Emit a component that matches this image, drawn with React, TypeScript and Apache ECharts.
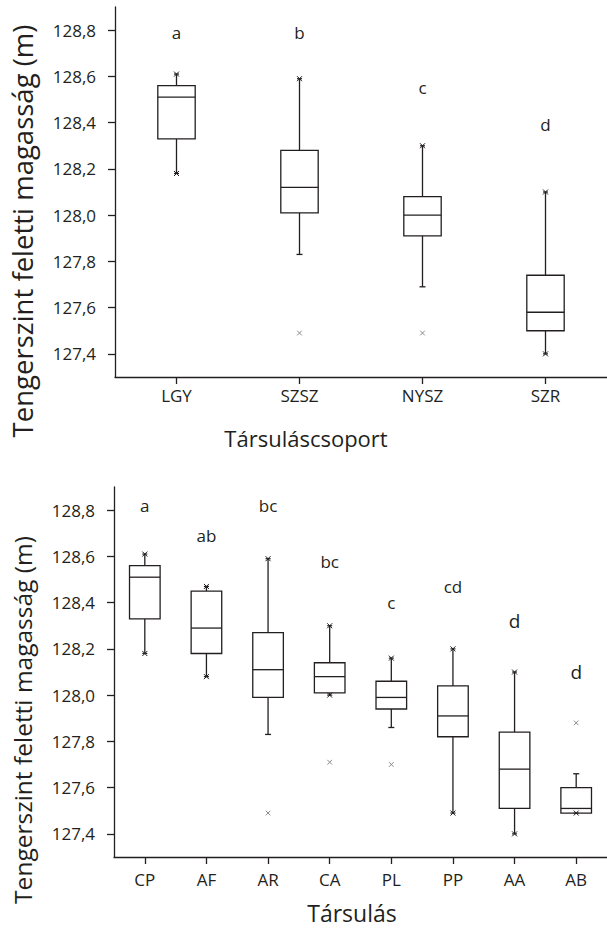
import React, { useEffect, useRef } from "react";
import * as echarts from "echarts";

// ---- Top chart: Társuláscsoport ----
const groupCats = ["LGY", "SZSZ", "NYSZ", "SZR"];
const groupMin = [128.18, 127.83, 127.69, 127.4];
const groupQ1 = [128.33, 128.01, 127.91, 127.5];
const groupMedian = [128.51, 128.12, 128.0, 127.58];
const groupQ3 = [128.56, 128.28, 128.08, 127.74];
const groupMax = [128.61, 128.59, 128.3, 128.1];
const groupLowMarked = [1, 0, 0, 1];
const groupHighMarked = [1, 1, 1, 1];
const groupOutlierCat = [1, 2];
const groupOutlierVal = [127.49, 127.49];
const groupLetters = ["a", "b", "c", "d"];
const groupLetterY = [128.79, 128.79, 128.55, 128.39];

// ---- Bottom chart: Társulás ----
const assocCats = ["CP", "AF", "AR", "CA", "PL", "PP", "AA", "AB"];
const assocMin = [128.18, 128.08, 127.83, 128.0, 127.86, 127.49, 127.4, 127.49];
const assocQ1 = [128.33, 128.18, 127.99, 128.01, 127.94, 127.82, 127.51, 127.49];
const assocMedian = [128.51, 128.29, 128.11, 128.08, 127.99, 127.91, 127.68, 127.51];
const assocQ3 = [128.56, 128.45, 128.27, 128.14, 128.06, 128.04, 127.84, 127.6];
const assocMax = [128.61, 128.47, 128.59, 128.3, 128.16, 128.2, 128.1, 127.66];
const assocLowMarked = [1, 1, 0, 1, 0, 1, 1, 1];
const assocHighMarked = [1, 1, 1, 1, 1, 1, 1, 0];
const assocOutlierCat = [2, 3, 4, 7];
const assocOutlierVal = [127.49, 127.71, 127.7, 127.88];
const assocLetters = ["a", "ab", "bc", "bc", "c", "cd", "d", "d"];
const assocLetterY = [128.82, 128.69, 128.82, 128.58, 128.4, 128.47, 128.32, 128.1];

const yTicks = [127.4, 127.6, 127.8, 128.0, 128.2, 128.4, 128.6, 128.8];
const yMin = 127.3;
const yMax = 128.9;

const INK = "#231f20";
const FONT = "Open Sans";

function boxData(mn: number[], q1: number[], md: number[], q3: number[], mx: number[], lo: number[], hi: number[]) {
  return mn.map((_, i) => [i, mn[i], q1[i], md[i], q3[i], mx[i], lo[i], hi[i]]);
}

function starMarker(cx: number, cy: number, r: number, color: string, withBar: boolean) {
  const lines: any[] = [
    { type: "line", shape: { x1: cx - r, y1: cy - r, x2: cx + r, y2: cy + r }, style: { stroke: color, lineWidth: 1 } },
    { type: "line", shape: { x1: cx - r, y1: cy + r, x2: cx + r, y2: cy - r }, style: { stroke: color, lineWidth: 1 } },
  ];
  if (withBar) {
    lines.push({ type: "line", shape: { x1: cx - r, y1: cy, x2: cx + r, y2: cy }, style: { stroke: color, lineWidth: 1.2 } });
  }
  return lines;
}

function makeBoxRender(halfW: number) {
  return (params: any, api: any) => {
    const i = api.value(0);
    const pMin = api.coord([i, api.value(1)]);
    const pQ1 = api.coord([i, api.value(2)]);
    const pMd = api.coord([i, api.value(3)]);
    const pQ3 = api.coord([i, api.value(4)]);
    const pMax = api.coord([i, api.value(5)]);
    const lo = api.value(6);
    const hi = api.value(7);
    const cx = pMd[0];
    const ls = { stroke: INK, lineWidth: 1.3 };
    const children: any[] = [
      { type: "line", shape: { x1: cx, y1: pQ3[1], x2: cx, y2: pMax[1] }, style: ls },
      { type: "line", shape: { x1: cx, y1: pQ1[1], x2: cx, y2: pMin[1] }, style: ls },
      {
        type: "rect",
        shape: { x: cx - halfW, y: pQ3[1], width: halfW * 2, height: pQ1[1] - pQ3[1] },
        style: { fill: "#fff", stroke: INK, lineWidth: 1.3 },
      },
      { type: "line", shape: { x1: cx - halfW, y1: pMd[1], x2: cx + halfW, y2: pMd[1] }, style: ls },
    ];
    if (hi) children.push(...starMarker(cx, pMax[1], 2.5, INK, true));
    else children.push({ type: "line", shape: { x1: cx - 3, y1: pMax[1], x2: cx + 3, y2: pMax[1] }, style: ls });
    if (lo) children.push(...starMarker(cx, pMin[1], 2.5, INK, true));
    else children.push({ type: "line", shape: { x1: cx - 3, y1: pMin[1], x2: cx + 3, y2: pMin[1] }, style: ls });
    return { type: "group", children };
  };
}

function outlierRender(params: any, api: any) {
  const p = api.coord([api.value(0), api.value(1)]);
  return { type: "group", children: starMarker(p[0], p[1], 2.3, "#8a8a8a", false) };
}

function makeLetterRender(letters: string[], sizeOf: (t: string) => number) {
  return (params: any, api: any) => {
    const p = api.coord([api.value(0), api.value(1)]);
    const t = letters[params.dataIndex];
    return {
      type: "text",
      x: p[0],
      y: p[1],
      style: {
        text: t,
        fontSize: sizeOf(t),
        fontFamily: FONT,
        fill: INK,
        align: "center",
        verticalAlign: "middle",
      },
    };
  };
}

function xAxisFor(cats: string[], gridIndex: number, margin: number) {
  return {
    type: "category",
    gridIndex,
    data: cats,
    boundaryGap: true,
    axisLine: { show: true, lineStyle: { color: INK, width: 1.3 } },
    axisTick: { show: true, alignWithLabel: true, length: 7, lineStyle: { color: INK, width: 1.3 } },
    axisLabel: { color: INK, fontSize: 17, fontFamily: FONT, margin },
    splitLine: { show: false },
  };
}

function yAxisFor(gridIndex: number) {
  return {
    type: "value",
    gridIndex,
    min: yMin,
    max: yMax,
    axisLine: { show: true, lineStyle: { color: INK, width: 1.3 } },
    axisTick: { show: true, length: 7, customValues: yTicks, lineStyle: { color: INK, width: 1.3 } },
    axisLabel: {
      customValues: yTicks,
      color: INK,
      fontSize: 17,
      fontFamily: FONT,
      margin: 19,
      formatter: (v: number) => v.toFixed(1).replace(".", ","),
    },
    splitLine: { show: false },
  };
}

export default function App() {
  const ref = useRef<HTMLDivElement>(null);
  useEffect(() => {
    if (!ref.current) return;
    const chart = echarts.init(ref.current, undefined, { renderer: "svg" });
    const option: any = {
      animation: false,
      backgroundColor: "#fff",
      grid: [
        { left: 115, top: 7, width: 495, height: 370 },
        { left: 114, top: 487, width: 496, height: 370 },
      ],
      xAxis: [xAxisFor(groupCats, 0, 10), xAxisFor(assocCats, 1, 14)],
      yAxis: [yAxisFor(0), yAxisFor(1)],
      series: [
        {
          type: "custom",
          xAxisIndex: 0,
          yAxisIndex: 0,
          renderItem: makeBoxRender(18.7),
          data: boxData(groupMin, groupQ1, groupMedian, groupQ3, groupMax, groupLowMarked, groupHighMarked),
          encode: { x: 0, y: [1, 2, 3, 4, 5] },
        },
        {
          type: "custom",
          xAxisIndex: 0,
          yAxisIndex: 0,
          renderItem: outlierRender,
          data: groupOutlierCat.map((c, i) => [c, groupOutlierVal[i]]),
        },
        {
          type: "custom",
          xAxisIndex: 0,
          yAxisIndex: 0,
          renderItem: makeLetterRender(groupLetters, () => 17),
          data: groupLetters.map((_, i) => [i, groupLetterY[i]]),
        },
        {
          type: "custom",
          xAxisIndex: 1,
          yAxisIndex: 1,
          renderItem: makeBoxRender(15.3),
          data: boxData(assocMin, assocQ1, assocMedian, assocQ3, assocMax, assocLowMarked, assocHighMarked),
          encode: { x: 0, y: [1, 2, 3, 4, 5] },
        },
        {
          type: "custom",
          xAxisIndex: 1,
          yAxisIndex: 1,
          renderItem: outlierRender,
          data: assocOutlierCat.map((c, i) => [c, assocOutlierVal[i]]),
        },
        {
          type: "custom",
          xAxisIndex: 1,
          yAxisIndex: 1,
          renderItem: makeLetterRender(assocLetters, (t) => (t === "d" ? 19 : 17)),
          data: assocLetters.map((_, i) => [i, assocLetterY[i]]),
        },
      ],
      graphic: [
        {
          type: "text",
          x: 22,
          y: 231,
          rotation: Math.PI / 2,
          style: { text: "Tengerszint feletti magasság (m)", fontSize: 27.5, fontFamily: FONT, fill: INK, align: "center", verticalAlign: "middle" },
        },
        {
          type: "text",
          x: 306,
          y: 438,
          style: { text: "Társuláscsoport", fontSize: 22, fontFamily: FONT, fill: INK, align: "center", verticalAlign: "middle" },
        },
        {
          type: "text",
          x: 22,
          y: 720,
          rotation: Math.PI / 2,
          style: { text: "Tengerszint feletti magasság (m)", fontSize: 24.5, fontFamily: FONT, fill: INK, align: "center", verticalAlign: "middle" },
        },
        {
          type: "text",
          x: 352,
          y: 913,
          style: { text: "Társulás", fontSize: 23, fontFamily: FONT, fill: INK, align: "center", verticalAlign: "middle" },
        },
      ],
    };
    chart.setOption(option);
    return () => chart.dispose();
  }, []);
  return (
    <div
      ref={ref}
      style={{ position: "absolute", left: 0, top: 0, width: 607, height: 932, background: "#fff" }}
    />
  );
}
